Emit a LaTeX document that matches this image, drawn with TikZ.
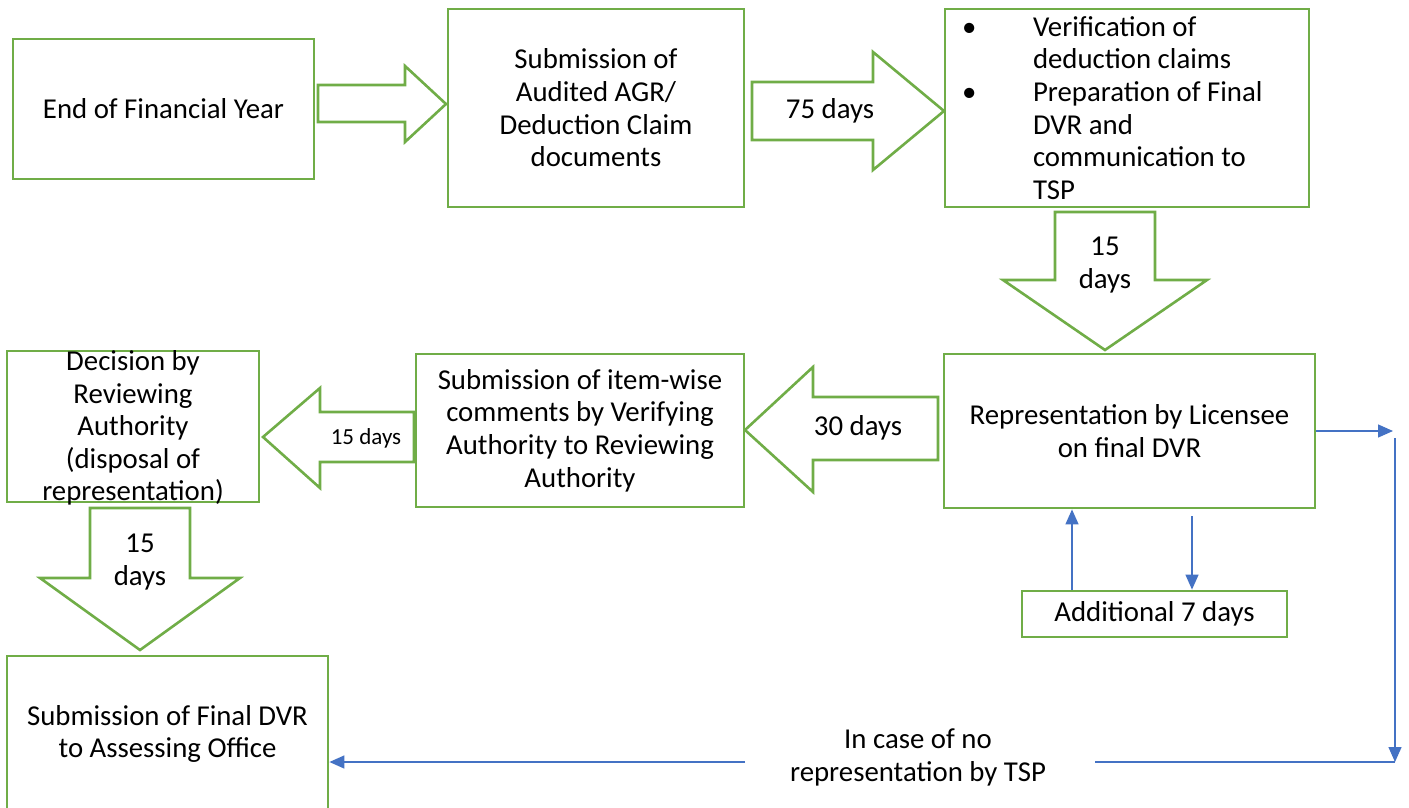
\documentclass[tikz,border=0pt]{standalone}
\usepackage{fontspec}
\setmainfont{Carlito}
\usetikzlibrary{arrows.meta,calc}
\definecolor{boxgreen}{RGB}{112,173,71}
\definecolor{lineblue}{RGB}{68,114,196}
\tikzstyle{block} = [rectangle, draw=boxgreen, line width=1.4pt, align=center, inner sep=2pt]
\tikzstyle{fat} = [draw=boxgreen, line width=1.3pt, fill=white, line join=miter]
\tikzstyle{flow} = [draw=lineblue, line width=0.7pt, -{Triangle[length=7.5pt,width=6.5pt]}]

\begin{document}
\begin{tikzpicture}[x=0.5pt,y=-0.5pt,
                    font=\fontsize{14.4}{16.3}\selectfont]
  \useasboundingbox (0,0) rectangle (1409,808);

  \node[block,minimum width=150.5pt,minimum height=70pt] (fy) at (163.5,109) {End of Financial Year};
  \node[block,minimum width=148pt,minimum height=99pt] (submit) at (596,108) {Submission of\\Audited AGR/\\Deduction Claim\\documents};
  \node[block,minimum width=182pt,minimum height=99pt,text width=165pt,align=flush left,inner xsep=8.5pt] (verify) at (1127,108)
    {\makebox[35.5pt][l]{\textbullet}Verification of\\
     \hspace*{35.5pt}deduction claims\\
     \makebox[35.5pt][l]{\textbullet}Preparation of Final\\
     \hspace*{35.5pt}DVR and\\
     \hspace*{35.5pt}communication to\\
     \hspace*{35.5pt}TSP};
  \node[block,minimum width=185.5pt,minimum height=77pt] (repr) at (1129.5,431) {Representation by Licensee\\on final DVR};
  \node[block,minimum width=164pt,minimum height=76.5pt] (comments) at (580,430.5) {Submission of item-wise\\comments by Verifying\\Authority to Reviewing\\Authority};
  \node[block,minimum width=126pt,minimum height=75.5pt] (decision) at (133,426.5) {};
  \node[align=center] (dectext) at (133,428) {Decision by\\Reviewing\\Authority\\(disposal of\\representation)}; % runs over the box
  \node[block,minimum width=160.5pt,minimum height=78pt] (final) at (167.5,734) {Submission of Final DVR\\to Assessing Office};
  \node[block,minimum width=132.5pt,minimum height=23pt] (extra) at (1154.5,614) {Additional 7 days};

  % fat arrows
  \draw[fat] (318,85) -- (405,85) -- (405,66) -- (446,104) -- (405,142) -- (405,122) -- (318,122) -- cycle;
  \draw[fat] (752,82) -- (873,82) -- (873,52) -- (944,111) -- (873,170) -- (873,140) -- (752,140) -- cycle;
  \draw[fat] (1055,212) -- (1155,212) -- (1155,280) -- (1207,280) -- (1105,350) -- (1003,280) -- (1055,280) -- cycle;
  \draw[fat] (938,397) -- (813,397) -- (813,367) -- (745,430) -- (813,492) -- (813,460) -- (938,460) -- cycle;
  \draw[fat] (414,412) -- (320,412) -- (320,388) -- (263,437) -- (320,488) -- (320,462) -- (414,462) -- cycle;
  \draw[fat] (90,508) -- (190,508) -- (190,578) -- (240,578) -- (140,650) -- (40,578) -- (90,578) -- cycle;

  \node (d75) at (830,111) {75 days};
  \node[align=center] (d15a) at (1105,265) {15\\days};
  \node (d30) at (858,428) {30 days};
  \node[font=\fontsize{11.5}{14}\selectfont] (d15b) at (366,438) {15 days};
  \node[align=center] (d15c) at (140,562) {15\\days};

  \draw[flow] ([xshift=-41.25pt]extra.north) -- ([xshift=-41.25pt]extra.north |- repr.south);
  \draw[flow] ([xshift=18.75pt,yshift=-3.5pt]extra.north |- repr.south) -- ([xshift=18.75pt]extra.north);

  \coordinate (r1) at (1393,431);
  \coordinate (r2) at (1395,438);
  \coordinate (r3) at (1395,762);
  \coordinate (g1) at (1095,762);
  \coordinate (g2) at (745,762);
  \draw[flow] (repr.east) -- (repr.east -| r1);
  \draw[flow] (r2) -- (r3);
  \draw[lineblue, line width=0.7pt] (r3) -- (g1);
  \draw[flow] (g2) -- (final.east |- g2);
  \node[align=center] (nomsg) at (918,757.5) {In case of no\\representation by TSP};
\end{tikzpicture}
\end{document}
